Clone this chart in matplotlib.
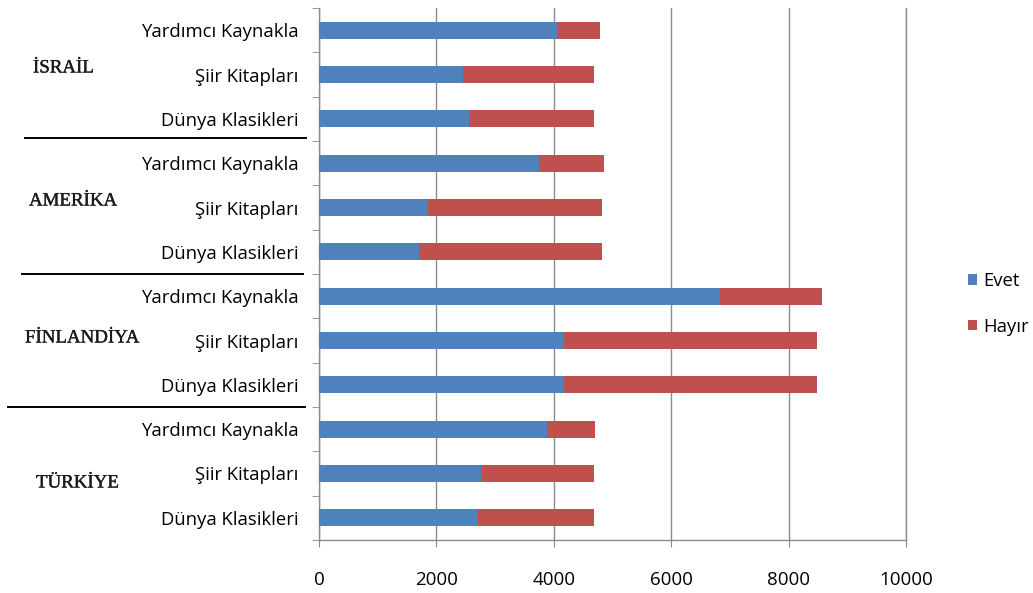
import matplotlib
matplotlib.use("Agg")
import matplotlib.pyplot as plt
from matplotlib.lines import Line2D
import matplotlib.patheffects as pe
import numpy as np

# Data (top row first)
countries = ["İSRAİL", "AMERİKA", "FİNLANDİYA", "TÜRKİYE"]
subcats = ["Yardımcı Kaynakla", "Şiir Kitapları", "Dünya Klasikleri"]
categories = [s for c in countries for s in subcats]
evet = [4046, 2457, 2553,
        3745, 1850, 1708,
        6826, 4181, 4181,
        3877, 2765, 2704]
hayir = [749, 2229, 2133,
         1106, 2973, 3115,
         1744, 4304, 4304,
         833, 1914, 1975]
xticks = [0, 2000, 4000, 6000, 8000, 10000]
series_names = ["Evet", "Hayır"]
colors = ["#4F81BD", "#C0504D"]

W, H = 1033, 593
fig = plt.figure(figsize=(W / 100, H / 100), dpi=100)
ax = fig.add_axes([319 / W, 1 - 540 / H, (906 - 319) / W, (540 - 8) / H])

y = np.arange(len(categories))
b1 = ax.barh(y, evet, height=0.38, color=colors[0], label=series_names[0], zorder=3)
b2 = ax.barh(y, hayir, left=evet, height=0.38, color=colors[1], label=series_names[1], zorder=3)

ax.set_ylim(len(categories) - 0.5, -0.5)
ax.set_xlim(0, 10000)
ax.set_xticks(xticks)
ax.set_xticklabels([str(v) for v in xticks], fontsize=13.5, family="Open Sans")
ax.set_yticks(y)
ax.set_yticklabels(categories, fontsize=13.3, family="Open Sans")
ax.set_yticks(np.arange(len(categories) + 1) - 0.5, minor=True)
ax.tick_params(axis="y", which="major", length=0, pad=15)
ax.tick_params(axis="y", which="minor", length=5, color="#888888", direction="out")
ax.tick_params(axis="x", which="major", length=5, color="#888888", direction="out", pad=17.5)

gridc = "#8c8c8c"
ax.grid(axis="x", color=gridc, linewidth=1, zorder=0)
ax.set_axisbelow(True)
for s in ["top", "right"]:
    ax.spines[s].set_visible(False)
for s in ["left", "bottom"]:
    ax.spines[s].set_color(gridc)
    ax.spines[s].set_linewidth(1)
ax.axvline(10000, color=gridc, linewidth=1, zorder=0, clip_on=False)

# Group separators and country labels (figure pixel coordinates)
seps = [(25, 306, 138), (22, 303, 274), (8, 305, 407)]
for x0, x1, yy in seps:
    fig.add_artist(Line2D([x0 / W, x1 / W], [1 - yy / H, 1 - yy / H],
                          color="black", linewidth=1.4))
label_pos = [(33, 68), (29, 201), (25, 338), (36, 483)]
for name, (lx, ly) in zip(countries, label_pos):
    fig.text(lx / W, 1 - ly / H, name, family="Liberation Serif", fontsize=13.6,
             ha="left", va="center", color="#1a1a1a",
             path_effects=[pe.withStroke(linewidth=0.25, foreground="#1a1a1a")])

# Legend
leg = fig.legend(handles=[b1, b2], labels=series_names, loc="upper left",
                 bbox_to_anchor=(968 / W, 1 - 272 / H), frameon=False,
                 prop={"family": "Open Sans", "size": 13.3},
                 handlelength=0.5, handleheight=0.5, handletextpad=0.35,
                 labelspacing=1.5, borderaxespad=0, borderpad=0)

fig.savefig("out.png", dpi=100)
